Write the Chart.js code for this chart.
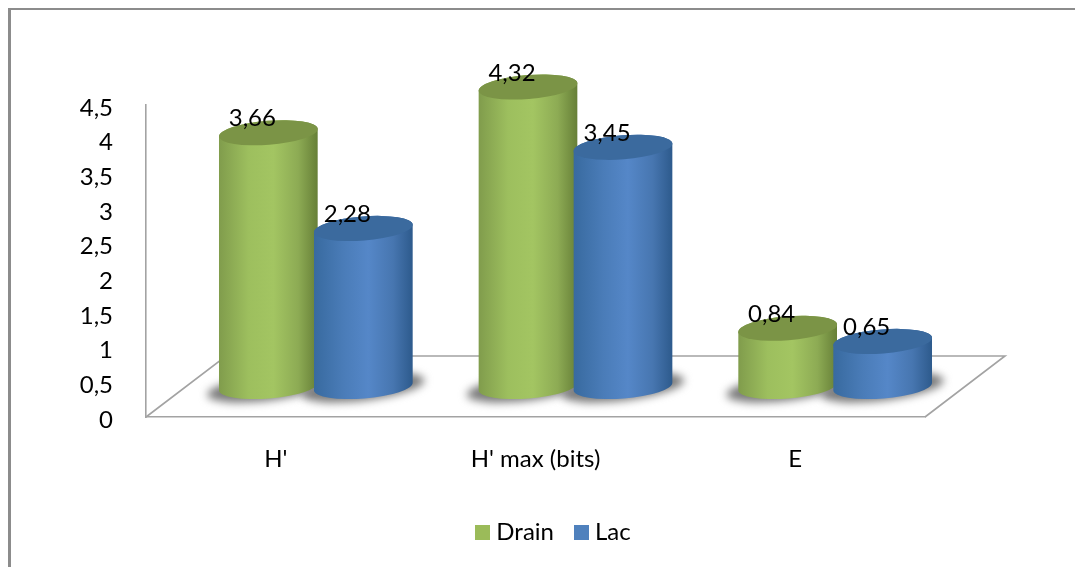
<!DOCTYPE html>
<html>
<head>
<meta charset="utf-8">
<script src="https://cdn.jsdelivr.net/npm/chart.js@4"></script>
<style>
  html, body { margin: 0; padding: 0; background: #fff; }
  canvas { display: block; }
</style>
</head>
<body>
<canvas id="cylinderChart" width="1075" height="567"></canvas>
<script>
const categories = ["H'", "H' max (bits)", "E"];
const drainValues = [3.66, 4.32, 0.84];
const lacValues = [2.28, 3.45, 0.65];
const yMax = 4.5;
const yStep = 0.5;

const font = { family: 'Lato, Carlito, sans-serif', size: 24 };
const lineColor = '#a3a3a3';
const depth = { x: 80, y: -61 };   // floor of the 3d box, bars stand half way in
const tilt = -4.5 * Math.PI / 180;
const comma = v => String(v).replace('.', ',');

const shades = {
  Drain: { side: ['#809c4c', '#9dbf5e', '#a3c562', '#8dab54', '#667f37'], top: '#7b9446' },
  Lac: { side: ['#386a9f', '#4a7cb8', '#5587c8', '#4776b0', '#2d5a8c'], top: '#3b6a9e' }
};

// 15px square for the legend, so the gap to the text can be as tight as in the original
function swatch(color) {
  const c = document.createElement('canvas');
  c.width = c.height = 15;
  const g = c.getContext('2d');
  g.fillStyle = color;
  g.fillRect(0, 0, 15, 15);
  return c;
}

const cylinderPlugin = {
  id: 'cylinders',
  afterLayout(chart) {
    // legend sits under the bars, not under the whole canvas
    const lg = chart.legend;
    const shiftX = 556 - (lg.left + lg.right) / 2;
    const shiftY = 524 - (lg.top + lg.bottom) / 2;
    lg.left += shiftX;
    lg.right += shiftX;
    lg.top += shiftY;
    lg.bottom += shiftY;
  },
  beforeDraw(chart) {
    const ctx = chart.ctx;
    ctx.save();
    ctx.fillStyle = '#8c8c8c';
    ctx.fillRect(8, 8, 1067, 2);
    ctx.fillRect(8, 8, 3, 559);
    ctx.restore();
  },
  beforeDatasetsDraw(chart) {
    const ctx = chart.ctx;
    const { left, right, bottom } = chart.chartArea;
    ctx.save();
    ctx.strokeStyle = lineColor;
    ctx.lineWidth = 1.6;
    ctx.beginPath();
    ctx.moveTo(left, bottom);
    ctx.lineTo(left + depth.x, bottom + depth.y);
    ctx.lineTo(right + depth.x, bottom + depth.y);
    ctx.lineTo(right, bottom);
    ctx.stroke();

    // shadows first so no cylinder gets one on top of it
    ctx.filter = 'blur(4px)';
    ctx.fillStyle = '#7a7a7a';
    chart.data.datasets.forEach((ds, i) => {
      chart.getDatasetMeta(i).data.forEach(bar => {
        const cx = bar.x + depth.x / 2;
        const base = bar.base + depth.y / 2 + 1;
        ctx.beginPath();
        ctx.ellipse(cx, base, bar.width / 2 + 12, 13, -7 * Math.PI / 180, 0, Math.PI * 2);
        ctx.fill();
      });
    });
    ctx.filter = 'none';

    chart.data.datasets.forEach((ds, i) => {
      chart.getDatasetMeta(i).data.forEach(bar => drawCylinder(ctx, bar, shades[ds.label]));
    });
    ctx.restore();
  },
  beforeDatasetDraw() {
    return false;
  },
  afterDatasetsDraw(chart) {
    const ctx = chart.ctx;
    ctx.save();
    ctx.font = font.size + 'px ' + font.family;
    ctx.fillStyle = '#000';
    ctx.textAlign = 'center';
    ctx.textBaseline = 'middle';
    chart.data.datasets.forEach((ds, i) => {
      chart.getDatasetMeta(i).data.forEach((bar, j) => {
        ctx.fillText(comma(ds.data[j]), bar.x + depth.x / 2 - 16, bar.y + depth.y / 2 - 14);
      });
    });
    ctx.restore();
  }
};

function drawCylinder(ctx, bar, shade) {
  const cx = bar.x + depth.x / 2;
  const rx = bar.width / 2;
  const ry = 12;
  const topY = bar.y + depth.y / 2;
  const baseY = bar.base + depth.y / 2;

  const side = ctx.createLinearGradient(cx - rx, 0, cx + rx, 0);
  side.addColorStop(0, shade.side[0]);
  side.addColorStop(0.3, shade.side[1]);
  side.addColorStop(0.55, shade.side[2]);
  side.addColorStop(0.8, shade.side[3]);
  side.addColorStop(1, shade.side[4]);

  ctx.fillStyle = side;
  ctx.beginPath();
  ctx.ellipse(cx, baseY, rx, ry, tilt, Math.PI, 0, true);
  ctx.ellipse(cx, topY, rx, ry, tilt, 0, Math.PI, true);
  ctx.closePath();
  ctx.fill();

  ctx.fillStyle = shade.top;
  ctx.beginPath();
  ctx.ellipse(cx, topY, rx, ry, tilt, 0, Math.PI * 2);
  ctx.fill();
}

new Chart(document.getElementById('cylinderChart'), {
  type: 'bar',
  data: {
    labels: categories,
    datasets: [
      { label: 'Drain', data: drainValues, backgroundColor: '#9bbb59' },
      { label: 'Lac', data: lacValues, backgroundColor: '#4f81bd' }
    ]
  },
  options: {
    responsive: false,
    animation: false,
    categoryPercentage: 0.7317,
    barPercentage: 1.042,
    layout: { padding: { left: 0, top: 105, right: 150, bottom: 0 } },
    scales: {
      x: {
        grid: { display: false },
        border: { color: lineColor, width: 1.6 },
        ticks: { color: '#000', font, padding: 20, maxRotation: 0 },
        afterFit: s => { s.height = 90; }
      },
      y: {
        min: 0,
        max: yMax,
        grid: { display: false },
        border: { color: lineColor, width: 1.6 },
        ticks: { color: '#000', font, padding: 25, stepSize: yStep, labelOffset: 3, callback: comma },
        afterFit: s => { s.width = 146; }
      }
    },
    plugins: {
      tooltip: { enabled: false },
      legend: {
        position: 'bottom',
        labels: {
          color: '#000',
          font,
          usePointStyle: true,
          boxWidth: 3,
          boxHeight: 15,
          padding: 26,
          generateLabels(chart) {
            const items = Chart.defaults.plugins.legend.labels.generateLabels(chart);
            items.forEach(item => { item.pointStyle = swatch(item.fillStyle); });
            return items;
          }
        }
      }
    }
  },
  plugins: [cylinderPlugin]
});
</script>
</body>
</html>
